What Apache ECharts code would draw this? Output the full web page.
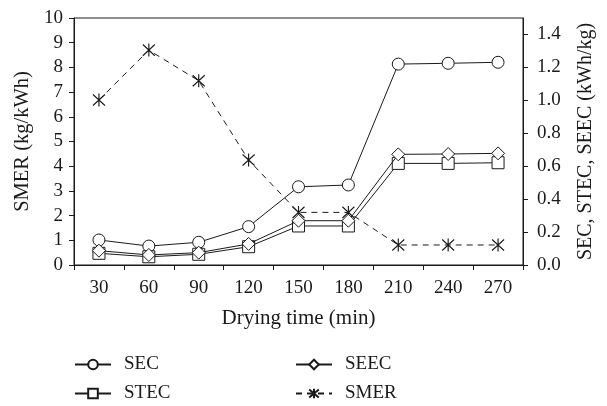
<!DOCTYPE html>
<html>
<head>
<meta charset="utf-8">
<script src="https://cdn.jsdelivr.net/npm/echarts@6/dist/echarts.min.js"></script>
<style>
    html, body { margin: 0; padding: 0; background: #fff; }
    #chart { width: 607px; height: 406px; }
</style>
</head>
<body>
<div id="chart"></div>
<script>
// x categories (drying time, min)
var times = ['30', '60', '90', '120', '150', '180', '210', '240', '270'];
// SEC, STEC, SEEC (kWh/kg) - right axis
var sec = [0.152, 0.115, 0.138, 0.233, 0.475, 0.486, 1.22, 1.225, 1.231];
var stec = [0.071, 0.05, 0.065, 0.111, 0.237, 0.237, 0.617, 0.617, 0.621];
var seec = [0.087, 0.061, 0.075, 0.128, 0.269, 0.269, 0.672, 0.674, 0.678];
// SMER (kg/kWh) - left axis
var smer = [6.68, 8.7, 7.46, 4.25, 2.13, 2.13, 0.81, 0.81, 0.81];
// right axis tick values
var rightTicks = [0, 0.2, 0.4, 0.6, 0.8, 1.0, 1.2, 1.4];

var ink = '#1a1a1a';
var font = 'Liberation Serif';
var starPath = 'path://M0,1L12,13M12,1L0,13M6,0L6,14';

var chart = echarts.init(document.getElementById('chart'));

// 点样式(白底黑边)
function markStyle() {
    return { color: '#fff', borderColor: ink, borderWidth: 1 };
}

// 图例(两列)
function legendCol(names, left) {
    return {
        data: names,
        orient: 'vertical',
        left: left, top: 355, height: 60,
        padding: 0,
        itemWidth: 36, itemHeight: 12, itemGap: 10,
        textStyle: { fontFamily: font, fontSize: 19, lineHeight: 19, color: ink, padding: [0, 0, 0, 8] }
    };
}

var option = {
    animation: false,
    backgroundColor: '#fff',
    textStyle: { fontFamily: font, color: ink },
    grid: {
        left: 74, right: 84, top: 18, bottom: 141,
        show: true, borderColor: ink, borderWidth: 1, backgroundColor: 'transparent'
    },
    legend: [
        legendCol(['SEC', 'STEC'], 74),
        legendCol(['SEEC', 'SMER'], 295)
    ],
    xAxis: {
        type: 'category',
        data: times,
        boundaryGap: true,
        name: 'Drying time (min)',
        nameLocation: 'middle',
        nameGap: 43,
        nameTextStyle: { fontFamily: font, fontSize: 21, color: ink },
        axisLine: { lineStyle: { color: ink, width: 1 } },
        axisTick: { show: true, inside: false, length: 5, lineStyle: { color: ink } },
        axisLabel: { fontFamily: font, fontSize: 19, color: ink, margin: 14 },
        splitLine: { show: false }
    },
    yAxis: [
        {
            type: 'value',
            position: 'left',
            min: 0, max: 10, interval: 1,
            name: 'SMER (kg/kWh)',
            nameLocation: 'middle',
            nameGap: 41,
            nameTextStyle: { fontFamily: font, fontSize: 20.5, color: ink },
            axisLine: { show: true, lineStyle: { color: ink, width: 1 } },
            axisTick: { show: true, inside: false, length: 5, lineStyle: { color: ink } },
            axisLabel: { fontFamily: font, fontSize: 19, color: ink, margin: 11 },
            splitLine: { show: false }
        },
        {
            type: 'value',
            position: 'right',
            min: 0, max: 1.5, interval: 0.2,
            name: 'SEC, STEC, SEEC (kWh/kg)',
            nameLocation: 'middle',
            nameGap: 53,
            nameTextStyle: { fontFamily: font, fontSize: 20, color: ink },
            axisLine: { show: true, lineStyle: { color: ink, width: 1 } },
            axisTick: { show: true, inside: false, length: 5, lineStyle: { color: ink }, customValues: rightTicks },
            axisLabel: {
                fontFamily: font, fontSize: 19, color: ink, margin: 14,
                customValues: rightTicks,
                formatter: function (v) { return v.toFixed(1); }
            },
            splitLine: { show: false }
        }
    ],
    series: [
        {
            name: 'SEC', type: 'line', yAxisIndex: 1, data: sec,
            symbol: 'circle', symbolSize: 12,
            lineStyle: { color: ink, width: 1 },
            itemStyle: markStyle(), z: 3
        },
        {
            name: 'STEC', type: 'line', yAxisIndex: 1, data: stec,
            symbol: 'rect', symbolSize: 12,
            lineStyle: { color: ink, width: 1 },
            itemStyle: markStyle(), z: 3
        },
        {
            name: 'SEEC', type: 'line', yAxisIndex: 1, data: seec,
            symbol: 'diamond', symbolSize: [13, 13],
            lineStyle: { color: ink, width: 1 },
            itemStyle: markStyle(), z: 4
        },
        {
            name: 'SMER', type: 'line', yAxisIndex: 0, data: smer,
            symbol: starPath, symbolSize: [12, 13],
            lineStyle: { color: ink, width: 1, type: [6, 5] },
            itemStyle: { color: 'transparent', borderColor: ink, borderWidth: 1.2 }, z: 2
        }
    ]
};

chart.setOption(option);
</script>
</body>
</html>
